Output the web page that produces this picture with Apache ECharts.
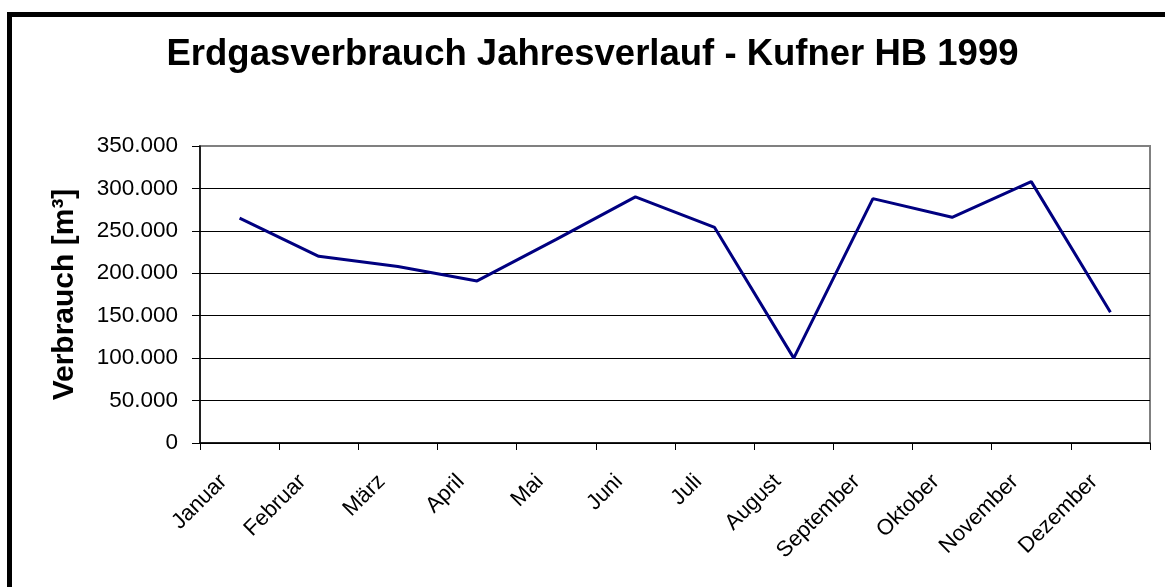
<!DOCTYPE html>
<html>
<head>
<meta charset="utf-8">
<script src="https://cdn.jsdelivr.net/npm/echarts@6/dist/echarts.min.js"></script>
<style>
html,body{margin:0;padding:0;background:#fff;}
#c{width:1165px;height:587px;}
</style>
</head>
<body>
<div id="c"></div>
<script>
const titleText = 'Erdgasverbrauch Jahresverlauf - Kufner HB 1999';
const yAxisName = 'Verbrauch [m³]';
const months = ['Januar','Februar','März','April','Mai','Juni','Juli','August','September','Oktober','November','Dezember'];
const consumption = [265000, 220000, 208000, 191000, 240000, 290000, 254000, 100000, 288000, 266000, 308000, 154000];
const yMin = 0;
const yMax = 350000;
const yStep = 50000;

function fmtDE(v){
  return String(v).replace(/\B(?=(\d{3})+(?!\d))/g, '.');
}

const chart = echarts.init(document.getElementById('c'), null, {renderer:'canvas'});
const FONT = '"Liberation Sans", Arial, sans-serif';
chart.setOption({
  backgroundColor:'#fff',
  animation:false,
  graphic:[
    {type:'rect', shape:{x:9.5, y:14.5, width:1300, height:800},
     style:{fill:'none', stroke:'#000', lineWidth:5}, z:100},
    {type:'text', x:592.5, y:55, style:{text:titleText, fontFamily:FONT, fontSize:36.5, fontWeight:'bold',
      fill:'#000', align:'center', verticalAlign:'middle'}}
  ],
  grid:{left:200, right:15, top:146, bottom:144, show:true, borderColor:'#808080', borderWidth:2, backgroundColor:'transparent'},
  xAxis:{
    type:'category', data:months, boundaryGap:true,
    axisLine:{show:true, lineStyle:{color:'#000', width:1.5}},
    axisTick:{show:true, length:7, inside:false, alignWithLabel:false, lineStyle:{color:'#000', width:1}},
    axisLabel:{interval:0, rotate:45, margin:19, padding:[0,23,0,0], fontFamily:FONT, fontSize:22, color:'#000'},
    splitLine:{show:false}
  },
  yAxis:{
    type:'value', min:yMin, max:yMax, interval:yStep,
    name:yAxisName, nameLocation:'middle', nameGap:120,
    nameTextStyle:{fontFamily:FONT, fontSize:30, fontWeight:'bold', color:'#000'},
    axisLine:{show:true, lineStyle:{color:'#000', width:1.5}},
    axisTick:{show:true, length:8, inside:false, lineStyle:{color:'#000', width:1}},
    axisLabel:{margin:22, fontFamily:FONT, fontSize:22.5, color:'#000', formatter:fmtDE},
    splitLine:{show:true, lineStyle:{color:['#000','#000','#000','#000','#000','#000','#000','#808080'], width:1}}
  },
  series:[{
    type:'line', data:consumption, symbol:'none', smooth:false,
    lineStyle:{color:'#000080', width:3}, itemStyle:{color:'#000080'}
  }]
});
</script>
</body>
</html>
